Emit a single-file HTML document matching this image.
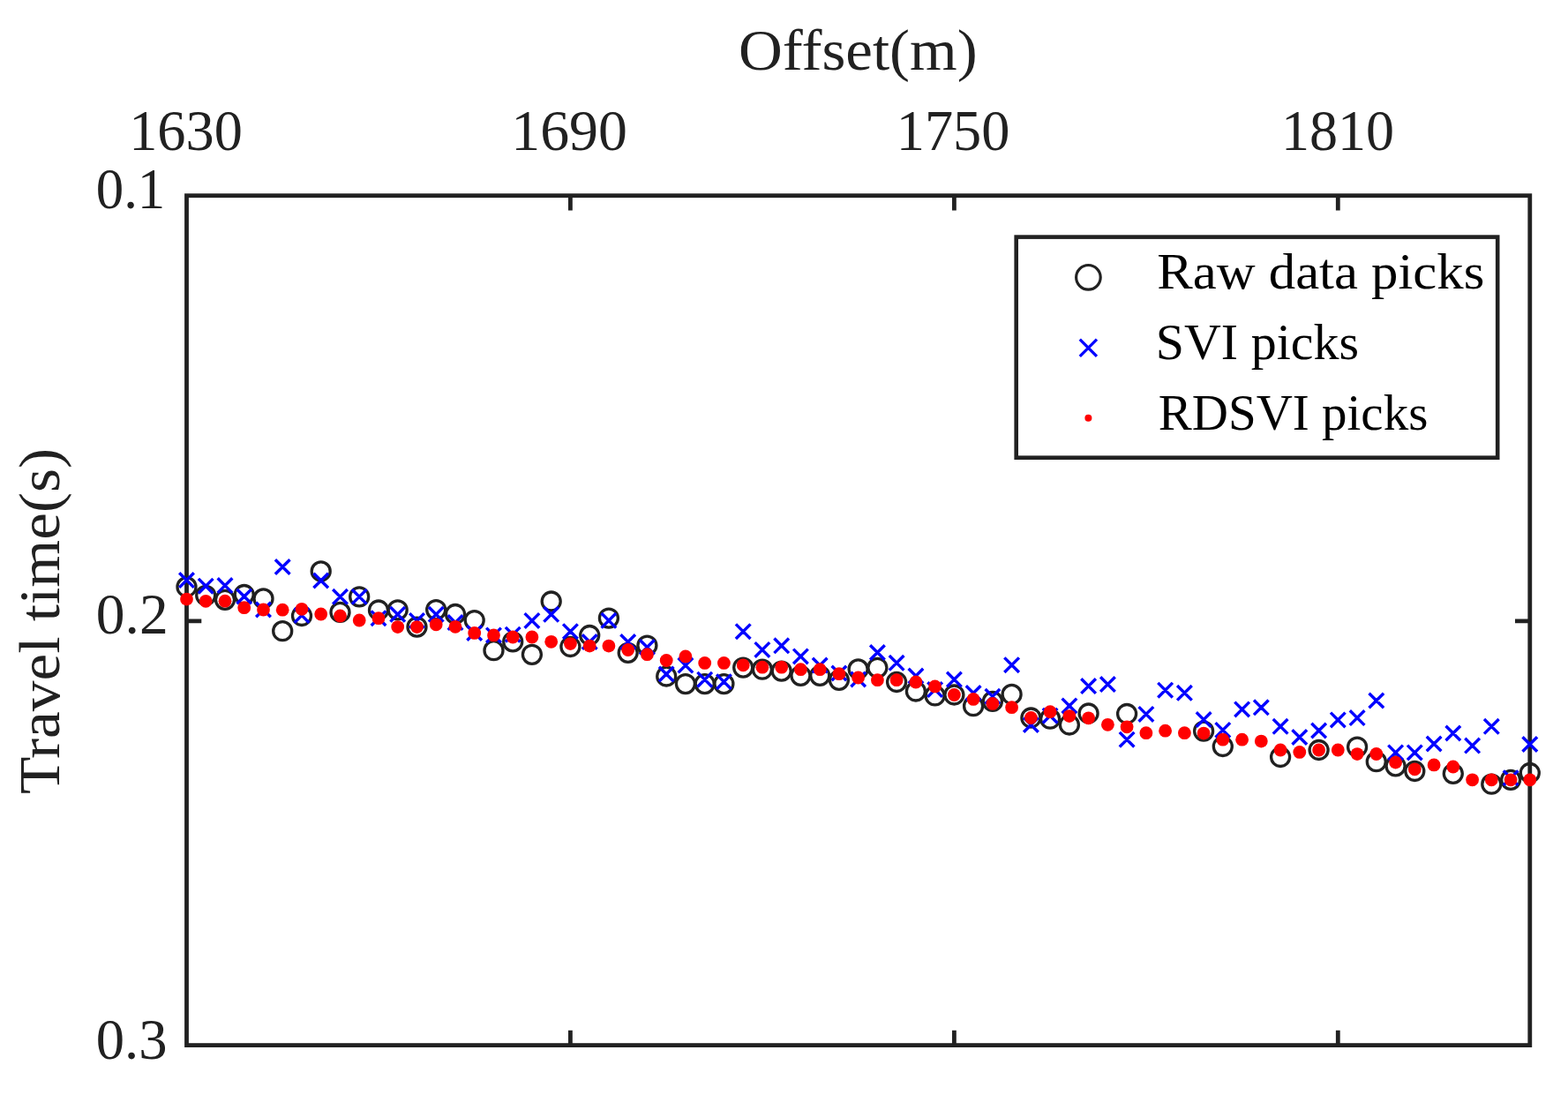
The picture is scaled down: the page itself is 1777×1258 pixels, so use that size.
<!DOCTYPE html><html><head><meta charset="utf-8"><title>Travel time vs offset</title><style>
html,body{margin:0;padding:0;background:#fff;}body{width:1777px;height:1258px;overflow:hidden;}
svg{display:block;filter:blur(0.4px);}text{font-family:"Liberation Serif",serif;fill:#212121;}
</style></head><body>
<svg width="1777" height="1258" viewBox="0 0 1777 1258">
<rect width="1777" height="1258" fill="#fff"/>
<rect x="211.5" y="221.7" width="1522.3" height="962.9" fill="none" stroke="#212121" stroke-width="4.8"/>
<path d="M646.4 221.7V238.5M646.4 1184.6V1167.8M1081.4 221.7V238.5M1081.4 1184.6V1167.8M1516.3 221.7V238.5M1516.3 1184.6V1167.8M211.5 703.9H228.3M1733.8 703.9H1717.0" stroke="#212121" stroke-width="4.8" fill="none"/>
<g fill="none" stroke="#212121" stroke-width="3.3"><circle cx="211.5" cy="665.2" r="10.5"/><circle cx="233.2" cy="674.8" r="10.5"/><circle cx="255.0" cy="679.8" r="10.5"/><circle cx="276.7" cy="674.0" r="10.5"/><circle cx="298.5" cy="678.4" r="10.5"/><circle cx="320.2" cy="715.2" r="10.5"/><circle cx="342.0" cy="698.0" r="10.5"/><circle cx="363.7" cy="647.4" r="10.5"/><circle cx="385.5" cy="693.9" r="10.5"/><circle cx="407.2" cy="676.3" r="10.5"/><circle cx="429.0" cy="691.5" r="10.5"/><circle cx="450.7" cy="691.3" r="10.5"/><circle cx="472.5" cy="710.6" r="10.5"/><circle cx="494.2" cy="691.1" r="10.5"/><circle cx="516.0" cy="696.0" r="10.5"/><circle cx="537.7" cy="703.1" r="10.5"/><circle cx="559.5" cy="737.2" r="10.5"/><circle cx="581.2" cy="727.3" r="10.5"/><circle cx="602.9" cy="741.8" r="10.5"/><circle cx="624.7" cy="681.5" r="10.5"/><circle cx="646.4" cy="733.0" r="10.5"/><circle cx="668.2" cy="720.0" r="10.5"/><circle cx="689.9" cy="700.6" r="10.5"/><circle cx="711.7" cy="739.8" r="10.5"/><circle cx="733.4" cy="731.6" r="10.5"/><circle cx="755.2" cy="766.5" r="10.5"/><circle cx="776.9" cy="775.1" r="10.5"/><circle cx="798.7" cy="775.1" r="10.5"/><circle cx="820.4" cy="775.1" r="10.5"/><circle cx="842.2" cy="756.6" r="10.5"/><circle cx="863.9" cy="758.7" r="10.5"/><circle cx="885.7" cy="760.6" r="10.5"/><circle cx="907.4" cy="765.8" r="10.5"/><circle cx="929.2" cy="765.8" r="10.5"/><circle cx="950.9" cy="770.8" r="10.5"/><circle cx="972.6" cy="758.4" r="10.5"/><circle cx="994.4" cy="756.8" r="10.5"/><circle cx="1016.1" cy="773.0" r="10.5"/><circle cx="1037.9" cy="783.5" r="10.5"/><circle cx="1059.6" cy="788.4" r="10.5"/><circle cx="1081.4" cy="787.5" r="10.5"/><circle cx="1103.1" cy="800.2" r="10.5"/><circle cx="1124.9" cy="794.9" r="10.5"/><circle cx="1146.6" cy="786.9" r="10.5"/><circle cx="1168.4" cy="813.5" r="10.5"/><circle cx="1190.1" cy="814.7" r="10.5"/><circle cx="1211.9" cy="821.5" r="10.5"/><circle cx="1233.6" cy="808.5" r="10.5"/><circle cx="1277.1" cy="809.0" r="10.5"/><circle cx="1364.1" cy="828.6" r="10.5"/><circle cx="1385.8" cy="846.0" r="10.5"/><circle cx="1451.1" cy="858.0" r="10.5"/><circle cx="1494.6" cy="850.0" r="10.5"/><circle cx="1538.1" cy="846.6" r="10.5"/><circle cx="1559.8" cy="863.2" r="10.5"/><circle cx="1581.6" cy="868.3" r="10.5"/><circle cx="1603.3" cy="874.0" r="10.5"/><circle cx="1646.8" cy="876.8" r="10.5"/><circle cx="1690.3" cy="888.7" r="10.5"/><circle cx="1712.1" cy="883.8" r="10.5"/><circle cx="1733.8" cy="876.0" r="10.5"/></g>
<path d="M203.2 649.3L219.8 665.9M203.2 665.9L219.8 649.3M224.9 655.9L241.5 672.5M224.9 672.5L241.5 655.9M246.7 655.3L263.3 671.9M246.7 671.9L263.3 655.3M268.4 667.7L285.0 684.3M268.4 684.3L285.0 667.7M290.2 682.7L306.8 699.3M290.2 699.3L306.8 682.7M311.9 634.2L328.5 650.8M311.9 650.8L328.5 634.2M333.7 689.1L350.3 705.7M333.7 705.7L350.3 689.1M355.4 649.7L372.0 666.3M355.4 666.3L372.0 649.7M377.2 668.0L393.8 684.6M377.2 684.6L393.8 668.0M398.9 668.0L415.5 684.6M398.9 684.6L415.5 668.0M420.7 692.4L437.3 709.0M420.7 709.0L437.3 692.4M442.4 688.0L459.0 704.6M442.4 704.6L459.0 688.0M464.2 695.1L480.8 711.7M464.2 711.7L480.8 695.1M485.9 688.0L502.5 704.6M485.9 704.6L502.5 688.0M507.7 697.3L524.3 713.9M507.7 713.9L524.3 697.3M529.4 709.1L546.0 725.7M529.4 725.7L546.0 709.1M551.2 711.6L567.8 728.2M551.2 728.2L567.8 711.6M572.9 710.9L589.5 727.5M572.9 727.5L589.5 710.9M594.6 695.1L611.2 711.7M594.6 711.7L611.2 695.1M616.4 688.0L633.0 704.6M616.4 704.6L633.0 688.0M638.1 707.4L654.7 724.0M638.1 724.0L654.7 707.4M659.9 719.2L676.5 735.8M659.9 735.8L676.5 719.2M681.6 695.0L698.2 711.6M681.6 711.6L698.2 695.0M703.4 719.2L720.0 735.8M703.4 735.8L720.0 719.2M725.1 725.2L741.7 741.8M725.1 741.8L741.7 725.2M746.9 755.7L763.5 772.3M746.9 772.3L763.5 755.7M768.6 745.8L785.2 762.4M768.6 762.4L785.2 745.8M790.4 761.9L807.0 778.5M790.4 778.5L807.0 761.9M812.1 764.4L828.7 781.0M812.1 781.0L828.7 764.4M833.9 707.4L850.5 724.0M833.9 724.0L850.5 707.4M855.6 728.1L872.2 744.7M855.6 744.7L872.2 728.1M877.4 723.5L894.0 740.1M877.4 740.1L894.0 723.5M899.1 735.6L915.7 752.2M899.1 752.2L915.7 735.6M920.9 745.8L937.5 762.4M920.9 762.4L937.5 745.8M942.6 754.7L959.2 771.3M942.6 771.3L959.2 754.7M964.4 761.6L980.9 778.2M964.4 778.2L980.9 761.6M986.1 731.2L1002.7 747.8M986.1 747.8L1002.7 731.2M1007.8 743.0L1024.4 759.6M1007.8 759.6L1024.4 743.0M1029.6 757.8L1046.2 774.4M1029.6 774.4L1046.2 757.8M1051.3 773.3L1067.9 789.9M1051.3 789.9L1067.9 773.3M1073.1 761.8L1089.7 778.4M1073.1 778.4L1089.7 761.8M1094.8 777.2L1111.4 793.8M1094.8 793.8L1111.4 777.2M1116.6 781.0L1133.2 797.6M1116.6 797.6L1133.2 781.0M1138.3 745.4L1154.9 762.0M1138.3 762.0L1154.9 745.4M1160.1 813.2L1176.7 829.8M1160.1 829.8L1176.7 813.2M1181.8 802.9L1198.4 819.5M1181.8 819.5L1198.4 802.9M1203.6 791.6L1220.2 808.2M1203.6 808.2L1220.2 791.6M1225.3 769.3L1241.9 785.9M1225.3 785.9L1241.9 769.3M1247.1 767.3L1263.7 783.9M1247.1 783.9L1263.7 767.3M1268.8 829.9L1285.4 846.5M1268.8 846.5L1285.4 829.9M1290.6 801.1L1307.2 817.7M1290.6 817.7L1307.2 801.1M1312.3 773.9L1328.9 790.5M1312.3 790.5L1328.9 773.9M1334.1 777.0L1350.7 793.6M1334.1 793.6L1350.7 777.0M1355.8 807.3L1372.4 823.9M1355.8 823.9L1372.4 807.3M1377.5 819.1L1394.1 835.7M1377.5 835.7L1394.1 819.1M1399.3 795.6L1415.9 812.2M1399.3 812.2L1415.9 795.6M1421.0 793.5L1437.6 810.1M1421.0 810.1L1437.6 793.5M1442.8 815.0L1459.4 831.6M1442.8 831.6L1459.4 815.0M1464.5 827.2L1481.1 843.8M1464.5 843.8L1481.1 827.2M1486.3 819.7L1502.9 836.3M1486.3 836.3L1502.9 819.7M1508.0 807.6L1524.6 824.2M1508.0 824.2L1524.6 807.6M1529.8 805.3L1546.4 821.9M1529.8 821.9L1546.4 805.3M1551.5 785.7L1568.1 802.3M1551.5 802.3L1568.1 785.7M1573.3 844.6L1589.9 861.2M1573.3 861.2L1589.9 844.6M1595.0 844.6L1611.6 861.2M1595.0 861.2L1611.6 844.6M1616.8 834.7L1633.4 851.3M1616.8 851.3L1633.4 834.7M1638.5 822.7L1655.1 839.3M1638.5 839.3L1655.1 822.7M1660.3 836.8L1676.9 853.4M1660.3 853.4L1676.9 836.8M1682.0 815.0L1698.6 831.6M1682.0 831.6L1698.6 815.0M1703.8 873.4L1720.4 890.0M1703.8 890.0L1720.4 873.4M1725.5 835.2L1742.1 851.8M1725.5 851.8L1742.1 835.2" fill="none" stroke="#0000ff" stroke-width="3.4"/>
<g fill="#ff0000"><circle cx="211.5" cy="679.1" r="7.4"/><circle cx="233.2" cy="681.3" r="7.4"/><circle cx="255.0" cy="681.2" r="7.4"/><circle cx="276.7" cy="688.7" r="7.4"/><circle cx="298.5" cy="691.0" r="7.4"/><circle cx="320.2" cy="691.2" r="7.4"/><circle cx="342.0" cy="690.3" r="7.4"/><circle cx="363.7" cy="696.0" r="7.4"/><circle cx="385.5" cy="698.0" r="7.4"/><circle cx="407.2" cy="703.0" r="7.4"/><circle cx="429.0" cy="700.7" r="7.4"/><circle cx="450.7" cy="710.6" r="7.4"/><circle cx="472.5" cy="710.6" r="7.4"/><circle cx="494.2" cy="707.8" r="7.4"/><circle cx="516.0" cy="710.3" r="7.4"/><circle cx="537.7" cy="717.4" r="7.4"/><circle cx="559.5" cy="719.9" r="7.4"/><circle cx="581.2" cy="722.0" r="7.4"/><circle cx="602.9" cy="722.0" r="7.4"/><circle cx="624.7" cy="727.3" r="7.4"/><circle cx="646.4" cy="729.6" r="7.4"/><circle cx="668.2" cy="732.1" r="7.4"/><circle cx="689.9" cy="732.1" r="7.4"/><circle cx="711.7" cy="736.5" r="7.4"/><circle cx="733.4" cy="741.7" r="7.4"/><circle cx="755.2" cy="748.5" r="7.4"/><circle cx="776.9" cy="743.9" r="7.4"/><circle cx="798.7" cy="751.4" r="7.4"/><circle cx="820.4" cy="751.4" r="7.4"/><circle cx="842.2" cy="753.8" r="7.4"/><circle cx="863.9" cy="756.2" r="7.4"/><circle cx="885.7" cy="756.2" r="7.4"/><circle cx="907.4" cy="758.7" r="7.4"/><circle cx="929.2" cy="758.7" r="7.4"/><circle cx="950.9" cy="763.7" r="7.4"/><circle cx="972.6" cy="768.0" r="7.4"/><circle cx="994.4" cy="770.7" r="7.4"/><circle cx="1016.1" cy="770.7" r="7.4"/><circle cx="1037.9" cy="773.0" r="7.4"/><circle cx="1059.6" cy="777.9" r="7.4"/><circle cx="1081.4" cy="787.5" r="7.4"/><circle cx="1103.1" cy="792.4" r="7.4"/><circle cx="1124.9" cy="797.4" r="7.4"/><circle cx="1146.6" cy="801.7" r="7.4"/><circle cx="1168.4" cy="813.5" r="7.4"/><circle cx="1190.1" cy="806.7" r="7.4"/><circle cx="1211.9" cy="811.6" r="7.4"/><circle cx="1233.6" cy="813.8" r="7.4"/><circle cx="1255.4" cy="821.3" r="7.4"/><circle cx="1277.1" cy="823.8" r="7.4"/><circle cx="1298.9" cy="830.7" r="7.4"/><circle cx="1320.6" cy="828.2" r="7.4"/><circle cx="1342.4" cy="830.7" r="7.4"/><circle cx="1364.1" cy="831.1" r="7.4"/><circle cx="1385.8" cy="838.2" r="7.4"/><circle cx="1407.6" cy="838.2" r="7.4"/><circle cx="1429.3" cy="840.1" r="7.4"/><circle cx="1451.1" cy="850.0" r="7.4"/><circle cx="1472.8" cy="852.4" r="7.4"/><circle cx="1494.6" cy="850.0" r="7.4"/><circle cx="1516.3" cy="850.0" r="7.4"/><circle cx="1538.1" cy="854.6" r="7.4"/><circle cx="1559.8" cy="854.5" r="7.4"/><circle cx="1581.6" cy="864.1" r="7.4"/><circle cx="1603.3" cy="871.8" r="7.4"/><circle cx="1625.1" cy="866.9" r="7.4"/><circle cx="1646.8" cy="869.0" r="7.4"/><circle cx="1668.6" cy="883.8" r="7.4"/><circle cx="1690.3" cy="883.8" r="7.4"/><circle cx="1712.1" cy="883.8" r="7.4"/><circle cx="1733.8" cy="883.8" r="7.4"/></g>
<rect x="1151.7" y="268.6" width="545.5" height="250.1" fill="#fff" stroke="#212121" stroke-width="4.6"/>
<circle cx="1233.4" cy="314.3" r="13.8" fill="none" stroke="#212121" stroke-width="3.2"/>
<path d="M1223.8 384.6L1243.0 403.8M1223.8 403.8L1243.0 384.6" stroke="#0000ff" stroke-width="3.3" fill="none"/>
<circle cx="1233.4" cy="473.8" r="4" fill="#ff0000"/>
<text x="210.50" y="170.00" font-size="66.00" text-anchor="middle" textLength="128.60" lengthAdjust="spacingAndGlyphs">1630</text>
<text x="645.10" y="170.00" font-size="66.00" text-anchor="middle" textLength="131.80" lengthAdjust="spacingAndGlyphs">1690</text>
<text x="1080.10" y="170.00" font-size="66.00" text-anchor="middle" textLength="128.82" lengthAdjust="spacingAndGlyphs">1750</text>
<text x="1516.00" y="170.00" font-size="66.00" text-anchor="middle" textLength="128.17" lengthAdjust="spacingAndGlyphs">1810</text>
<text x="148.00" y="235.60" font-size="66.00" text-anchor="middle" textLength="78.60" lengthAdjust="spacingAndGlyphs">0.1</text>
<text x="149.70" y="717.60" font-size="66.00" text-anchor="middle" textLength="81.86" lengthAdjust="spacingAndGlyphs">0.2</text>
<text x="149.20" y="1200.00" font-size="66.00" text-anchor="middle" textLength="80.81" lengthAdjust="spacingAndGlyphs">0.3</text>
<text x="972.30" y="78.80" font-size="66.00" text-anchor="middle" textLength="270.68" lengthAdjust="spacingAndGlyphs">Offset(m)</text>
<text x="1496.80" y="326.80" font-size="57.50" text-anchor="middle" textLength="371.08" lengthAdjust="spacingAndGlyphs" style="fill:#000">Raw data picks</text>
<text x="1424.90" y="407.20" font-size="57.50" text-anchor="middle" textLength="230.27" lengthAdjust="spacingAndGlyphs" style="fill:#000">SVI picks</text>
<text x="1465.60" y="486.60" font-size="57.50" text-anchor="middle" textLength="305.46" lengthAdjust="spacingAndGlyphs" style="fill:#000">RDSVI picks</text>
<text transform="translate(66.80 703.90) rotate(-90)" x="0" y="0" font-size="66.00" text-anchor="middle" textLength="392.18" lengthAdjust="spacingAndGlyphs">Travel time(s)</text>
</svg></body></html>
